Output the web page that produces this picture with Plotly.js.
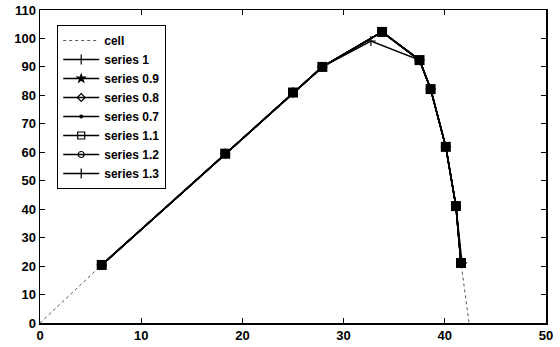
<!DOCTYPE html>
<html>
<head>
<meta charset="utf-8">
<script src="https://cdn.plot.ly/plotly-3.0.1.min.js"></script>
<style>html,body{margin:0;padding:0;background:#fff;}#chart{width:560px;height:347px;}</style>
</head>
<body>
<div id="chart"></div>
<script>
// Data
const cellX = [0, 6.1, 18.3, 25.0, 27.9, 33.8, 37.5, 38.6, 40.1, 41.1, 41.6, 42.4];
const cellY = [0, 20.4, 59.5, 81.0, 90.0, 102.3, 92.4, 82.2, 61.9, 41.1, 21.1, 0];

const s1X = [6.1, 18.3, 25.0, 27.9, 32.7, 37.5, 38.6, 40.1, 41.1, 41.7];
const s1Y = [20.4, 59.5, 81.0, 90.0, 99.1, 92.4, 82.2, 61.9, 41.1, 21.1];

const sX = [6.1, 18.3, 25.0, 27.9, 33.8, 37.5, 38.6, 40.1, 41.1, 41.6];
const sY = [20.4, 59.5, 81.0, 90.0, 102.3, 92.4, 82.2, 61.9, 41.1, 21.1];

const seriesNames = ["series 0.9", "series 0.8", "series 0.7", "series 1.1", "series 1.2", "series 1.3"];
const seriesSymbols = ["star", "diamond-open", "circle", "square-open", "circle-open", "cross-thin-open"];
const seriesSizes = [6, 6, 3, 7, 6, 7];

const xTicks = [0, 10, 20, 30, 40, 50];
const yTicks = [0, 10, 20, 30, 40, 50, 60, 70, 80, 90, 100, 110];

const traces = [];
traces.push({x: cellX, y: cellY, name: "cell", mode: "lines",
  line: {color: "#555", width: 1, dash: "dot"}});
traces.push({x: s1X, y: s1Y, name: "series 1", mode: "lines+markers",
  line: {color: "#000", width: 1.5},
  marker: {symbol: "cross-thin-open", size: 7, color: "#000", line: {color: "#000", width: 1.2}}});
seriesNames.forEach((n, i) => {
  traces.push({x: sX, y: sY, name: n, mode: "lines+markers",
    line: {color: "#000", width: 1.5},
    marker: {symbol: seriesSymbols[i], size: seriesSizes[i], color: "#000", line: {color: "#000", width: 1.2}}});
});
// filled blob look of overlapping markers
traces.push({x: sX, y: sY, mode: "markers", showlegend: false, hoverinfo: "skip",
  marker: {symbol: "square", size: 10, color: "#000"}});

const axisFont = {family: "Liberation Sans, Arial, sans-serif", size: 13, color: "#000", weight: "bold"};

const layout = {
  width: 560, height: 347,
  margin: {l: 40, r: 14, t: 10, b: 24},
  paper_bgcolor: "#fff", plot_bgcolor: "#fff",
  showlegend: true,
  xaxis: {range: [0, 50], tickvals: xTicks, ticktext: xTicks.map(String),
    ticks: "inside", ticklen: 5, tickcolor: "#000", showgrid: false, zeroline: false,
    showline: true, linecolor: "#000", linewidth: 1.5, mirror: "ticks", tickfont: axisFont},
  yaxis: {range: [0, 110], tickvals: yTicks, ticktext: yTicks.map(String),
    ticks: "inside", ticklen: 5, tickcolor: "#000", showgrid: false, zeroline: false,
    showline: true, linecolor: "#000", linewidth: 1.5, mirror: "ticks", tickfont: axisFont},
  legend: {x: 0.034, y: 0.952, xanchor: "left", yanchor: "top",
    bgcolor: "#fff", bordercolor: "#000", borderwidth: 1,
    font: {family: "Liberation Sans, Arial, sans-serif", size: 12, color: "#000", weight: "bold"},
    tracegroupgap: 0, itemwidth: 36}
};

Plotly.newPlot("chart", traces, layout, {staticPlot: true, displayModeBar: false});
</script>
</body>
</html>
